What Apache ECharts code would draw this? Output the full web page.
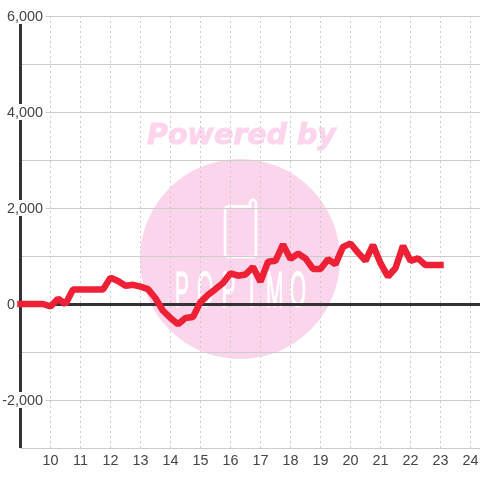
<!DOCTYPE html>
<html><head><meta charset="utf-8">
<style>html,body{margin:0;padding:0;background:#fff}#c{width:480px;height:480px}</style>
<script src="https://cdn.jsdelivr.net/npm/echarts@6/dist/echarts.min.js"></script>
</head><body><div id="c"></div>
<script>
const hours = [9,9.25,9.5,9.75,10,10.25,10.5,10.75,11,11.25,11.5,11.75,12,12.25,12.5,12.75,13,13.25,13.5,13.75,14,14.25,14.5,14.75,15,15.25,15.5,15.75,16,16.25,16.5,16.75,17,17.25,17.5,17.75,18,18.25,18.5,18.75,19,19.25,19.5,19.75,20,20.25,20.5,20.75,21,21.25,21.5,21.75,22,22.25,22.5,22.75,23];
const values = [0,0,0,0,-50,110,0,300,300,300,300,300,550,480,380,400,360,310,120,-140,-290,-420,-290,-270,40,190,310,440,640,590,615,770,465,880,900,1240,940,1050,950,730,730,930,830,1190,1260,1070,900,1230,850,570,750,1210,900,950,810,810,810];
const xTickValues = [10,11,12,13,14,15,16,17,18,19,20,21,22,23,24];
const series1 = hours.map((h,i)=>[h,values[i]]);
const logoLetters = ['P','O','P','I','M','O'];
const chart = echarts.init(document.getElementById('c'),null,{renderer:'canvas'});
const letterEls = logoLetters.map((ch,i)=>({type:'text',z:-10,silent:true,x:182+23.2*i,y:293.5,scaleX:0.42,scaleY:1,
  style:{x:0,y:0,text:ch,align:'center',verticalAlign:'middle',font:'50px "Liberation Sans"',fill:'#fff',stroke:'#fff',lineWidth:1}}));
const FONT='"Liberation Sans"';
chart.setOption({
  animation:false,
  grid:{left:20.5,right:0,top:16,bottom:32,containLabel:false,outerBoundsMode:'none'},
  graphic:[
    {type:'circle',z:-10,silent:true,shape:{cx:240,cy:259,r:100},style:{fill:'#fbd5ec'}},
    {type:'text',z:-10,silent:true,style:{x:241.5,y:136.5,text:'Powered by',align:'center',verticalAlign:'middle',font:'italic bold 28.5px "DejaVu Sans"',fill:'#fcd5ec',stroke:'#fcd5ec',lineWidth:1}},
    {type:'rect',z:-10,silent:true,shape:{x:225,y:206.5,width:31,height:50.5,r:3},style:{fill:'none',stroke:'#fff',lineWidth:2.5}},
    {type:'line',z:-10,silent:true,shape:{x1:251.5,y1:206.5,x2:254.5,y2:206.5},style:{stroke:'#fbd5ec',lineWidth:3.5}},
    {type:'polyline',z:-10,silent:true,shape:{points:[[250,207.5],[250,202.5],[251,200.5],[253,199.5],[255,200.5],[256,202.5],[256,212]]},style:{fill:'none',stroke:'#fff',lineWidth:2.5,lineJoin:'round'}},
    ...letterEls
  ],
  xAxis:{type:'value',min:9,max:24.3167,interval:1,
    axisLine:{show:false},axisTick:{show:false},
    axisLabel:{color:'#444',fontSize:14.4,fontFamily:FONT,margin:6,showMinLabel:true,showMaxLabel:true,hideOverlap:false,
      customValues:xTickValues},
    splitLine:{show:true,lineStyle:{color:'#ccc',type:[2,3],width:1}}},
  yAxis:{type:'value',min:-3000,max:6000,interval:1000,
    axisLine:{show:true,onZero:false,lineStyle:{color:'#333',width:3,cap:'butt'}},axisTick:{show:false},
    axisLabel:{inside:true,margin:25.5,align:'right',color:'#444',fontSize:14.4,fontFamily:FONT,
      formatter:v=>{ if(v%2000!==0) return ''; return v===0?'{z|0}':'{t|'+v.toLocaleString('en-US')+'}';},
      rich:{
        t:{color:'#444',fontSize:14.4,fontFamily:FONT,backgroundColor:'#fff',padding:[2,3,0,0]},
        z:{color:'#444',fontSize:14.4,fontFamily:FONT,padding:[2,31,0,0]}}},
    splitLine:{show:true,lineStyle:{color:'#ccc',width:1}}},
  series:[{type:'line',data:series1,showSymbol:false,smooth:false,z:5,
    lineStyle:{color:'#ee2036',width:6.5,cap:'square',join:'bevel'},
    markLine:{silent:true,symbol:'none',label:{show:false},z:3,lineStyle:{color:'#333',width:3,type:'solid',cap:'butt'},data:[{yAxis:0}]}}]
});
</script></body></html>
